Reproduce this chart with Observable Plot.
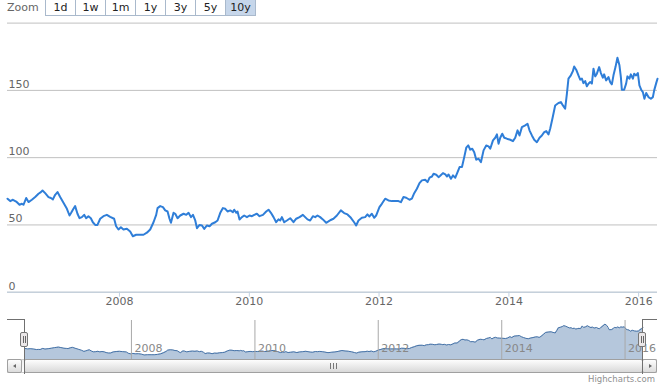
<!DOCTYPE html>
<html><head><meta charset="utf-8">
<script src="https://cdn.jsdelivr.net/npm/d3@7"></script>
<script src="https://cdn.jsdelivr.net/npm/@observablehq/plot@0.6"></script>
<style>
body{margin:0;background:#fff;font-family:"DejaVu Sans",Verdana,sans-serif;}
#chart{position:relative;width:660px;height:384px;overflow:hidden;background:#fff;}
#chart svg{position:absolute;left:0;}
.abs{position:absolute;box-sizing:border-box;}
.btn{position:absolute;top:-1px;height:17px;width:31px;box-sizing:border-box;border:1px solid #a9b9cc;background:#fff;font-size:11px;line-height:15px;text-align:center;color:#222;}
.btn.sel{background:#c6d6ea;}
.sbtn{position:absolute;top:359px;height:14px;width:15px;box-sizing:border-box;border:1px solid #a0a0a0;border-radius:2px;background:linear-gradient(#fdfdfd,#dcdcdc);}
.arrow{position:absolute;top:4px;width:0;height:0;border-top:2.5px solid transparent;border-bottom:2.5px solid transparent;}
.line{position:absolute;background:#707070;}
</style></head><body><div id="chart"></div><script>
// ---- data (decimal year, value) ----
const years = [
2006.274,2006.316,2006.358,2006.408,2006.459,2006.496,2006.521,2006.562,2006.598,2006.650,2006.701,2006.752,2006.789,2006.814,2006.855,2006.906,2006.943,2006.974,2007.009,2007.045,2007.086,2007.137,2007.190,2007.230,2007.256,2007.291,2007.317,2007.353,2007.384,2007.421,2007.456,2007.487,2007.522,2007.559,2007.590,2007.626,2007.661,2007.703,2007.753,2007.806,2007.857,
2007.918,2007.949,2007.985,2008.022,2008.062,2008.114,2008.165,2008.206,2008.257,2008.319,2008.370,2008.422,2008.473,2008.524,2008.565,2008.586,2008.627,2008.669,2008.704,2008.740,2008.770,2008.792,2008.832,2008.858,2008.894,2008.935,2008.986,2009.028,2009.063,2009.100,2009.131,2009.166,2009.193,2009.233,2009.270,2009.305,2009.347,2009.387,2009.424,2009.475,2009.510,
2009.552,2009.593,2009.629,2009.664,2009.706,2009.747,2009.767,2009.798,2009.818,2009.849,2009.886,2009.921,2009.963,2010.003,2010.040,2010.076,2010.117,2010.157,2010.210,2010.260,2010.296,2010.333,2010.373,2010.414,2010.450,2010.476,2010.502,2010.538,2010.579,2010.630,2010.681,2010.723,2010.774,2010.826,2010.861,2010.897,2010.938,2010.980,2011.015,2011.051,2011.092,2011.134,2011.185,2011.220,
2011.247,2011.297,2011.350,2011.411,2011.462,2011.513,2011.566,2011.616,2011.647,2011.683,2011.735,2011.786,2011.821,2011.852,2011.889,2011.925,2011.955,2012.006,2012.043,2012.094,2012.145,2012.197,2012.248,2012.299,2012.336,2012.376,2012.418,2012.468,2012.505,2012.541,2012.582,2012.622,2012.659,2012.710,2012.746,2012.777,2012.814,2012.838,2012.880,2012.915,
2012.941,2012.983,2013.019,2013.045,2013.069,2013.106,2013.137,2013.173,2013.208,2013.239,2013.276,2013.311,2013.342,2013.373,2013.404,2013.435,2013.465,2013.496,2013.532,2013.569,2013.609,2013.650,2013.686,2013.712,2013.754,2013.789,2013.815,2013.840,2013.866,2013.897,2013.928,2013.969,2014.020,2014.062,2014.097,2014.133,2014.163,2014.200,2014.251,2014.287,2014.317,2014.354,2014.390,2014.431,2014.472,2014.508,2014.544,2014.575,2014.610,
2014.636,2014.675,2014.713,2014.764,2014.801,2014.832,2014.867,2014.894,2014.918,2014.955,2014.986,2015.006,2015.037,2015.072,2015.099,2015.125,2015.149,2015.176,2015.202,2015.226,2015.253,2015.279,2015.304,2015.330,2015.356,2015.391,2015.418,2015.448,2015.468,2015.499,2015.535,2015.561,2015.587,2015.612,2015.643,2015.673,2015.704,2015.726,2015.741,2015.777,2015.807,2015.827,2015.858,2015.880,2015.911,2015.931,2015.961,2015.988,2016.012,2016.039,2016.065,2016.089,2016.116,2016.151,2016.188,2016.219,2016.239,2016.270,2016.290
];
const values = [
69.5,67.7,68.7,67.4,65,65.7,65,70,67,68.7,70.7,73.2,74.4,75.6,73.6,70.7,70,69,72.4,74.4,70.7,66.5,62,57,59,62,64,58.3,55,55.8,57.5,55,56.5,55,52,50,50,54.6,56.5,57.5,56,
54.6,49,46.6,48.3,46.6,47.1,45.1,41.6,42.7,42.7,42.7,44.2,46.6,52,57.5,62.5,64,63.2,60.8,60,54.6,51.6,59,58.3,55,57,58.3,57.5,59,55.8,57.5,53.3,47.6,50,49.6,47.1,49.6,49,50.9,52,53.3,
59,62.5,62,60,60.8,59.5,61.3,59,60,54.1,55.8,57,55.8,57,56.5,57.5,58.3,56.5,57.5,60,61.3,59,55.8,52,54.1,53.3,55.8,52,53.3,55,52,54.6,55.8,57.5,55.8,54.1,53.3,56.5,55.8,57,55.8,54.1,51.6,52.6,
53.5,54.6,57,60.8,58.8,57.8,55.3,52,49.6,53.3,55.3,55.8,57.8,56.3,58.3,55.3,57,63.2,65.7,69.5,68.2,67.7,67.7,67.7,66.9,70.7,70.2,68.7,69.5,73.6,76.9,81.1,83.1,83.6,81.8,85.1,86,88,87.3,85.5,
86.5,88.5,87.5,86,87.5,84.3,86.8,85.1,89.2,93,93,100.4,107.4,109.1,105.9,106.6,104.1,98.5,99.2,96.7,105.4,109.1,108.4,106.6,112.8,114.8,117.3,110.4,114.8,117.8,114.8,114.1,113.3,112.3,114.8,120.3,116.5,122.7,124,125.2,120.3,116.5,113.3,111.5,114.8,116.5,119,119.7,117.3,
121.5,130,138.8,140.6,141.3,138.8,136.4,147.5,158.7,161.2,164.3,167.8,165.4,161.1,158,158.7,155.4,156.9,153,155,156.2,155,166.1,160.4,162.4,167.3,162.9,159.4,161.9,157.4,159.9,156.2,154.5,161.2,167.3,174.3,168.6,159.9,150.5,150.5,155,160.4,158.7,161.9,158.7,162.4,161.1,162.9,153.7,150.5,148.7,143.8,148,145,143.8,145,150,155.4,158.7
];
const yGridValues = [0, 50, 100, 150, 200];
const yLabelValues = [0, 50, 100, 150];
const xTickYears = [2008, 2010, 2012, 2014, 2016];
const navYDomain = [20, 190];
const zoomButtons = ["1d", "1w", "1m", "1y", "3y", "5y", "10y"];
const selectedButton = "10y";
const creditText = "Highcharts.com";

function decYear(y) {
  const yr = Math.floor(y);
  const a = Date.UTC(yr, 0, 1), b = Date.UTC(yr + 1, 0, 1);
  return new Date(a + (y - yr) * (b - a));
}
const data = years.map((y, i) => ({date: decYear(y), value: values[i]}));
const xTicks = xTickYears.map(y => new Date(Date.UTC(y, 0, 1)));
const xDomain = d3.extent(data, d => d.date);
const fmtYear = d3.utcFormat("%Y");
const chart = document.getElementById("chart");

const main = Plot.plot({
  width: 660, height: 310,
  marginLeft: 7, marginRight: 3, marginTop: 22.6, marginBottom: 18.3,
  style: {fontFamily: "DejaVu Sans, Verdana, sans-serif", fontSize: "11px", background: "transparent", overflow: "visible"},
  x: {type: "utc", domain: xDomain},
  y: {domain: [0, 200], axis: null},
  marks: [
    Plot.ruleY(yGridValues, {stroke: "#C0C0C0", strokeWidth: 1}),
    Plot.ruleY([0], {stroke: "#C0D0E0", strokeWidth: 1}),
    Plot.axisX({ticks: xTicks, tickSize: 5, tickPadding: 0, stroke: "#C0D0E0", fill: "#666", tickFormat: fmtYear}),
    Plot.text(yLabelValues, {y: d => d, text: d => String(d), frameAnchor: "left", textAnchor: "start", dx: 1, dy: -6, fill: "#666"}),
    Plot.lineY(data, {x: "date", y: "value", stroke: "#2f7ed8", strokeWidth: 2, strokeLinejoin: "round"})
  ]
});
main.style.top = "0px";
chart.appendChild(main);

const nav = Plot.plot({
  width: 660, height: 84,
  marginLeft: 24.5, marginRight: 17.5, marginTop: 20, marginBottom: 24.5,
  style: {fontFamily: "DejaVu Sans, Verdana, sans-serif", fontSize: "11px", background: "transparent", overflow: "visible"},
  x: {type: "utc", domain: xDomain, axis: null},
  y: {domain: navYDomain, axis: null},
  marks: [
    Plot.areaY(data, {x: "date", y: "value", fill: "#4572A7", fillOpacity: 0.4, clip: true}),
    Plot.lineY(data, {x: "date", y: "value", stroke: "#4572A7", strokeWidth: 1}),
    Plot.ruleX(xTicks, {stroke: "#a8a8a8", strokeWidth: 1}),
    Plot.text(xTicks, {x: d => d, text: d => fmtYear(d), frameAnchor: "bottom", textAnchor: "start", dx: 3, dy: -8, fill: "#888"})
  ]
});
nav.style.top = "300px";
chart.appendChild(nav);

// ---- range selector ----
function el(cls, css, html) {
  const d = document.createElement("div");
  d.className = cls; d.style.cssText = css;
  if (html != null) d.textContent = html;
  chart.appendChild(d); return d;
}
el("abs", "left:7px;top:1px;font-size:11px;color:#666;line-height:14px;", "Zoom");
zoomButtons.forEach((b, i) => {
  el("btn" + (b === selectedButton ? " sel" : ""), `left:${45 + 30 * i}px;`, b);
});

// ---- navigator outline & scrollbar ----
el("abs", "left:7px;top:359px;width:650px;height:14px;border:1px solid #ccc;background:linear-gradient(#eee,#fff);");
el("abs", "left:24px;top:359px;width:619px;height:14px;border:1px solid #a0a0a0;border-radius:2px;background:linear-gradient(#fdfdfd,#d9d9d9);");
[-3, 0, 3].forEach(o => el("line", `left:${333 + o}px;top:363px;width:1px;height:6px;background:#777;`));
const lb = el("sbtn", "left:7px;");
const la = document.createElement("div"); la.className = "arrow"; la.style.cssText = "left:5px;border-right:3px solid #666;"; lb.appendChild(la);
const rb = el("sbtn", "left:642px;");
const ra = document.createElement("div"); ra.className = "arrow"; ra.style.cssText = "left:6px;border-left:3px solid #666;"; rb.appendChild(ra);

el("line", "left:7px;top:319px;width:18px;height:1px;");
el("line", "left:24px;top:319px;width:1px;height:55px;");
el("line", "left:642px;top:319px;width:15px;height:1px;");
el("line", "left:642px;top:319px;width:1px;height:55px;");

[24.5, 642.5].forEach(cx => {
  el("abs", `left:${cx - 4.5}px;top:332px;width:8px;height:15px;border:1px solid #777;border-radius:2px;background:#ebe7e8;`);
  el("line", `left:${cx - 2}px;top:336px;width:1px;height:7px;background:#666;`);
  el("line", `left:${cx}px;top:336px;width:1px;height:7px;background:#666;`);
});

el("abs", "right:5px;top:374px;font-size:8.5px;color:#909090;line-height:11px;", creditText);
</script></body></html>
